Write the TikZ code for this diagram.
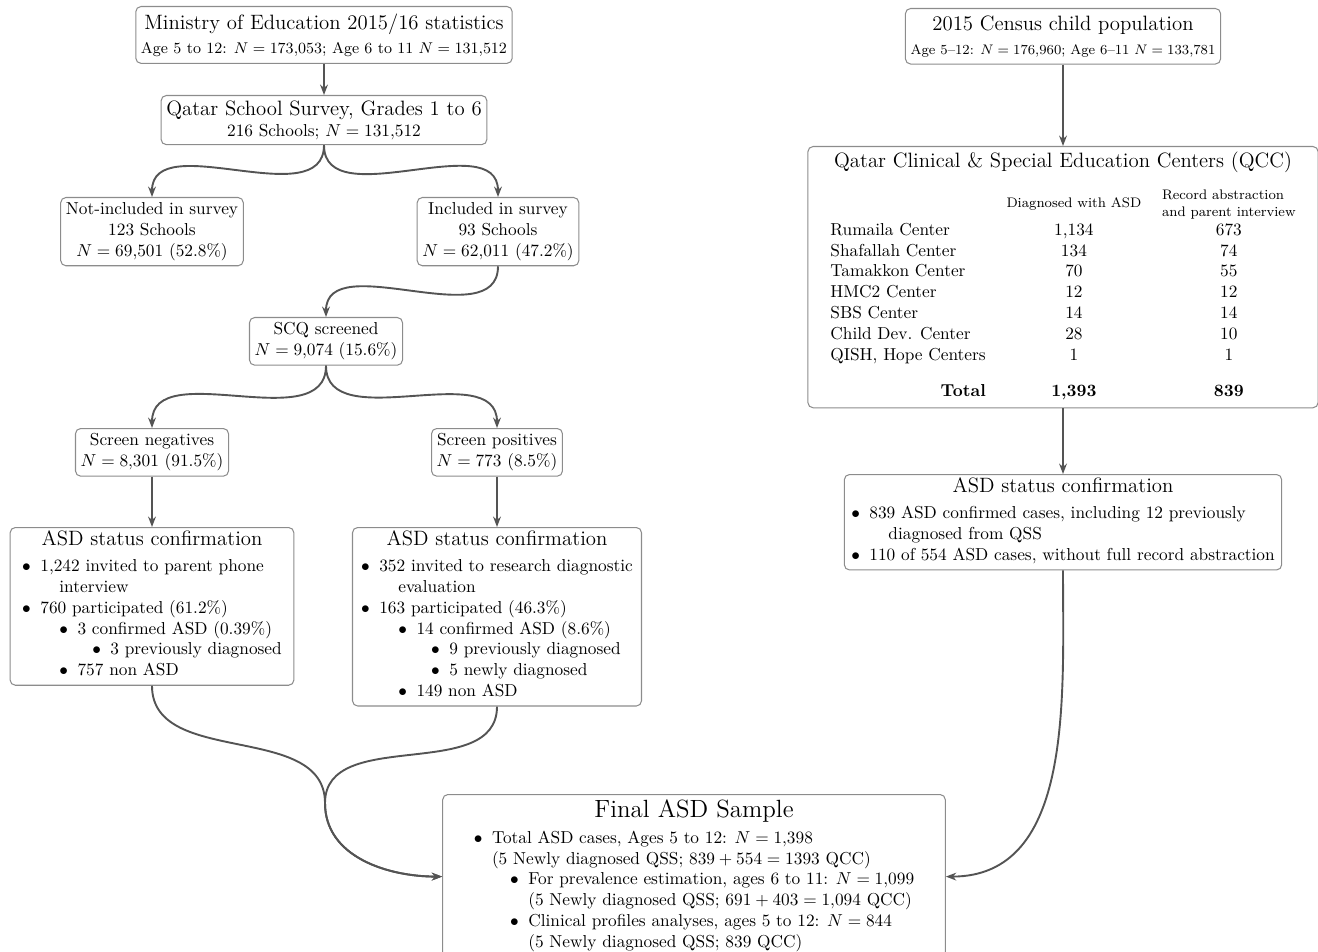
\documentclass[tikz,border=0pt]{standalone}
\usepackage{amsmath}
\usepackage{tikz}
\usetikzlibrary{arrows.meta}
\definecolor{boxline}{gray}{0.55}
\definecolor{flowline}{gray}{0.33}
\tikzset{
    box/.style={
        draw=boxline, line width=0.6pt, rounded corners=3pt,
        align=center, anchor=north, inner xsep=3pt, inner ysep=3pt
    },
    listbox/.style={
        box, inner xsep=5pt, inner ysep=2pt
    },
    flow/.style={
        draw=flowline, line width=1.1pt,
        -{Stealth[length=6pt,width=4.5pt]}
    }
}
\newcommand{\itm}[2]{\hspace*{#1}$\bullet$\hspace{0.55em}#2}
\newcommand{\cont}[2]{\hspace*{#1}#2}

\begin{document}
\begin{tikzpicture}[x=0.578pt, y=-0.578pt]
		\useasboundingbox (0,0) rectangle (1318,952);

		% School survey side
		\node[box, inner ysep=4pt] (ministry) at (324,6) {{\large Ministry of Education 2015/16 statistics}\\[2pt]
			\small Age 5 to 12: $N = 173{,}053$; Age 6 to 11 $N = 131{,}512$};
		\node[box] (qss) at (324,95) {{\large Qatar School Survey, Grades 1 to 6}\\
			216 Schools; $N = 131{,}512$};

		\node[box] (notinc) at (152,197) {Not-included in survey\\123 Schools\\$N = 69{,}501$ (52.8\%)};
		\node[box] (inc) at (498,197) {Included in survey\\93 Schools\\$N = 62{,}011$ (47.2\%)};

		\node[box] (scq) at (326,317) {SCQ screened\\$N = 9{,}074$ (15.6\%)};

		\node[box] (neg) at (152,428) {Screen negatives\\$N = 8{,}301$ (91.5\%)};
		\node[box] (pos) at (497,428) {Screen positives\\$N = 773$ (8.5\%)};

		\node[listbox, minimum width=164pt] (asdl) at (152,527) {{\large ASD status confirmation}\\[3pt]
			\begin{tabular}[t]{@{}l@{}}
				\itm{0pt}{1,242 invited to parent phone}\\
				\cont{21.5pt}{interview}\\
				\itm{0pt}{760 participated (61.2\%)}\\
				\itm{21.5pt}{3 confirmed ASD (0.39\%)}\\
				\itm{40.5pt}{3 previously diagnosed}\\
				\itm{21.5pt}{757 non ASD}
			\end{tabular}};
		\node[listbox, minimum width=164pt] (asdr) at (497,527) {{\large ASD status confirmation}\\[3pt]
			\begin{tabular}[t]{@{}l@{}}
				\itm{0pt}{352 invited to research diagnostic}\\
				\cont{21.5pt}{evaluation}\\
				\itm{0pt}{163 participated (46.3\%)}\\
				\itm{21.5pt}{14 confirmed ASD (8.6\%)}\\
				\itm{40.5pt}{9 previously diagnosed}\\
				\itm{40.5pt}{5 newly diagnosed}\\
				\itm{21.5pt}{149 non ASD}
			\end{tabular}};

		% Clinical centers side
		\node[box, inner ysep=4pt] (census) at (1063,8) {{\large 2015 Census child population}\\[2pt]
			\footnotesize Age 5--12: $N = 176{,}960$; Age 6--11 $N = 133{,}781$};

		\node[box, inner xsep=7pt] (qcc) at (1063,146) {{\large Qatar Clinical \& Special Education Centers (QCC)}\\[8pt]
			\begin{tabular}[t]{lcc}
				& \footnotesize Diagnosed with ASD & {\footnotesize\begin{tabular}{@{}l@{}}Record abstraction\\and parent interview\end{tabular}}\\
				Rumaila Center & 1,134 & 673\\
				Shafallah Center & 134 & 74\\
				Tamakkon Center & 70 & 55\\
				HMC2 Center & 12 & 12\\
				SBS Center & 14 & 14\\
				Child Dev. Center & 28 & 10\\
				QISH, Hope Centers & 1 & 1\\[9pt]
				\multicolumn{1}{r}{\textbf{Total}} & \textbf{1,393} & \textbf{839}
			\end{tabular}};

		\node[listbox, inner xsep=4pt] (asdc) at (1063,474) {{\large ASD status confirmation}\\[3pt]
			\begin{tabular}[t]{@{}l@{}}
				\itm{0pt}{839 ASD confirmed cases, including 12 previously}\\
				\cont{21.5pt}{diagnosed from QSS}\\
				\itm{0pt}{110 of 554 ASD cases, without full record abstraction}
			\end{tabular}};

		% Final sample
		\node[box, inner xsep=12pt] (final) at (694,794) {{\Large Final ASD Sample}\\[3pt]
			\begin{tabular}[t]{l}
				\itm{0pt}{Total ASD cases, Ages 5 to 12: $N = 1{,}398$}\\
				\cont{0pt}{\hphantom{$\bullet$\hspace{0.55em}}(5 Newly diagnosed QSS; $839 + 554 = 1393$ QCC)}\\
				\itm{21pt}{For prevalence estimation, ages 6 to 11: $N = 1{,}099$}\\
				\cont{21pt}{\hphantom{$\bullet$\hspace{0.55em}}(5 Newly diagnosed QSS; $691 + 403 = 1{,}094$ QCC)}\\
				\itm{21pt}{Clinical profiles analyses, ages 5 to 12: $N = 844$}\\
				\cont{21pt}{\hphantom{$\bullet$\hspace{0.55em}}(5 Newly diagnosed QSS; 839 QCC)}
			\end{tabular}};

		\coordinate (merge) at (325,803);

		% Connectors
		\draw[flow] (ministry.south) -- (qss.north);
		\draw[flow] (qss.south) to[out=-90,in=90] (notinc.north);
		\draw[flow] (qss.south) to[out=-90,in=90] (inc.north);
		\draw[flow] (inc.south) to[out=-90,in=90] (scq.north);
		\draw[flow] (scq.south) to[out=-90,in=90] (neg.north);
		\draw[flow] (scq.south) to[out=-90,in=90] (pos.north);
		\draw[flow] (neg.south) -- (asdl.north);
		\draw[flow] (pos.south) -- (asdr.north);
		\draw[flow] (asdl.south) to[out=-90,in=90] (merge) to[out=-90,in=180] (final.west);
		\draw[flow] (asdr.south) to[out=-90,in=90] (merge) to[out=-90,in=180] (final.west);

		\draw[flow] (census.south) -- (qcc.north);
		\draw[flow] (qcc.south) -- (asdc.north);
		\draw[flow] (asdc.south) to[out=-90,in=0] (final.east);

	\end{tikzpicture}
\end{document}
